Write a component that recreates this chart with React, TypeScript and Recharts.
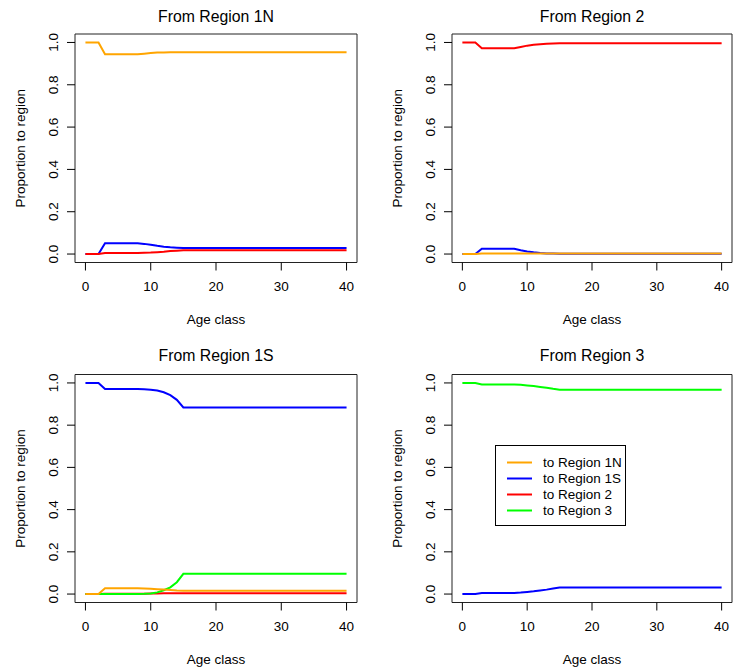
import { LineChart, Line, XAxis, YAxis, ReferenceArea, Legend } from 'recharts'

const AGES = [
  0, 1, 2, 3, 4, 5, 6, 7, 8, 9,
  10, 11, 12, 13, 14, 15, 16, 17, 18, 19,
  20, 21, 22, 23, 24, 25, 26, 27, 28, 29,
  30, 31, 32, 33, 34, 35, 36, 37, 38, 39,
  40,
]

const SERIES_KEYS = ['to1N', 'to1S', 'to2', 'to3']
const SERIES_LABELS = ['to Region 1N', 'to Region 1S', 'to Region 2', 'to Region 3']
const SERIES_COLORS = ['#FFA500', '#0000FF', '#FF0000', '#00FF00']
const X_TICKS = [0, 10, 20, 30, 40]
const Y_TICKS = [0, 0.2, 0.4, 0.6, 0.8, 1.0]

// From Region 1N
const FROM_1N_TO_1N = [
  1, 1, 1, 0.944, 0.944, 0.944, 0.944, 0.944, 0.944, 0.947,
  0.95, 0.952, 0.953, 0.954, 0.954, 0.954, 0.954, 0.954, 0.954, 0.954,
  0.954, 0.954, 0.954, 0.954, 0.954, 0.954, 0.954, 0.954, 0.954, 0.954,
  0.954, 0.954, 0.954, 0.954, 0.954, 0.954, 0.954, 0.954, 0.954, 0.954,
  0.954,
]
const FROM_1N_TO_1S = [
  0, 0, 0, 0.051, 0.051, 0.051, 0.051, 0.051, 0.051, 0.048,
  0.044, 0.039, 0.035, 0.032, 0.03, 0.028, 0.028, 0.028, 0.028, 0.028,
  0.028, 0.028, 0.028, 0.028, 0.028, 0.028, 0.028, 0.028, 0.028, 0.028,
  0.028, 0.028, 0.028, 0.028, 0.028, 0.028, 0.028, 0.028, 0.028, 0.028,
  0.028,
]
const FROM_1N_TO_2 = [
  0, 0, 0, 0.005, 0.005, 0.005, 0.005, 0.005, 0.005, 0.006,
  0.007, 0.009, 0.011, 0.014, 0.016, 0.018, 0.018, 0.018, 0.018, 0.018,
  0.018, 0.018, 0.018, 0.018, 0.018, 0.018, 0.018, 0.018, 0.018, 0.018,
  0.018, 0.018, 0.018, 0.018, 0.018, 0.018, 0.018, 0.018, 0.018, 0.018,
  0.018,
]

// From Region 2
const FROM_2_TO_1N = [
  0, 0, 0, 0.003, 0.003, 0.003, 0.003, 0.003, 0.003, 0.003,
  0.003, 0.003, 0.003, 0.003, 0.003, 0.003, 0.003, 0.003, 0.003, 0.003,
  0.003, 0.003, 0.003, 0.003, 0.003, 0.003, 0.003, 0.003, 0.003, 0.003,
  0.003, 0.003, 0.003, 0.003, 0.003, 0.003, 0.003, 0.003, 0.003, 0.003,
  0.003,
]
const FROM_2_TO_1S = [
  0, 0, 0, 0.025, 0.025, 0.025, 0.025, 0.025, 0.025, 0.018,
  0.012, 0.008, 0.005, 0.003, 0.002, 0.001, 0.001, 0.001, 0.001, 0.001,
  0.001, 0.001, 0.001, 0.001, 0.001, 0.001, 0.001, 0.001, 0.001, 0.001,
  0.001, 0.001, 0.001, 0.001, 0.001, 0.001, 0.001, 0.001, 0.001, 0.001,
  0.001,
]
const FROM_2_TO_2 = [
  1, 1, 1, 0.973, 0.973, 0.973, 0.973, 0.973, 0.973, 0.979,
  0.985, 0.989, 0.992, 0.994, 0.995, 0.996, 0.996, 0.996, 0.996, 0.996,
  0.996, 0.996, 0.996, 0.996, 0.996, 0.996, 0.996, 0.996, 0.996, 0.996,
  0.996, 0.996, 0.996, 0.996, 0.996, 0.996, 0.996, 0.996, 0.996, 0.996,
  0.996,
]

// From Region 1S
const FROM_1S_TO_1N = [
  0, 0, 0, 0.027, 0.027, 0.027, 0.027, 0.027, 0.027, 0.026,
  0.025, 0.023, 0.021, 0.019, 0.017, 0.016, 0.016, 0.016, 0.016, 0.016,
  0.016, 0.016, 0.016, 0.016, 0.016, 0.016, 0.016, 0.016, 0.016, 0.016,
  0.016, 0.016, 0.016, 0.016, 0.016, 0.016, 0.016, 0.016, 0.016, 0.016,
  0.016,
]
const FROM_1S_TO_1S = [
  1, 1, 1, 0.971, 0.971, 0.971, 0.971, 0.971, 0.971, 0.97,
  0.968, 0.964, 0.956, 0.942, 0.92, 0.884, 0.884, 0.884, 0.884, 0.884,
  0.884, 0.884, 0.884, 0.884, 0.884, 0.884, 0.884, 0.884, 0.884, 0.884,
  0.884, 0.884, 0.884, 0.884, 0.884, 0.884, 0.884, 0.884, 0.884, 0.884,
  0.884,
]
const FROM_1S_TO_2 = [
  0, 0, 0, 0.002, 0.002, 0.002, 0.002, 0.002, 0.002, 0.002,
  0.003, 0.003, 0.004, 0.004, 0.004, 0.004, 0.004, 0.004, 0.004, 0.004,
  0.004, 0.004, 0.004, 0.004, 0.004, 0.004, 0.004, 0.004, 0.004, 0.004,
  0.004, 0.004, 0.004, 0.004, 0.004, 0.004, 0.004, 0.004, 0.004, 0.004,
  0.004,
]
const FROM_1S_TO_3 = [
  0, 0, 0, 0, 0, 0, 0, 0, 0, 0.001,
  0.003, 0.008, 0.018, 0.032, 0.056, 0.096, 0.096, 0.096, 0.096, 0.096,
  0.096, 0.096, 0.096, 0.096, 0.096, 0.096, 0.096, 0.096, 0.096, 0.096,
  0.096, 0.096, 0.096, 0.096, 0.096, 0.096, 0.096, 0.096, 0.096, 0.096,
  0.096,
]

// From Region 3
const FROM_3_TO_1S = [
  0, 0, 0, 0.005, 0.005, 0.005, 0.005, 0.005, 0.005, 0.007,
  0.01, 0.013, 0.017, 0.021, 0.026, 0.031, 0.031, 0.031, 0.031, 0.031,
  0.031, 0.031, 0.031, 0.031, 0.031, 0.031, 0.031, 0.031, 0.031, 0.031,
  0.031, 0.031, 0.031, 0.031, 0.031, 0.031, 0.031, 0.031, 0.031, 0.031,
  0.031,
]
const FROM_3_TO_3 = [
  1, 1, 1, 0.993, 0.993, 0.993, 0.993, 0.993, 0.993, 0.991,
  0.988, 0.985, 0.981, 0.977, 0.972, 0.968, 0.968, 0.968, 0.968, 0.968,
  0.968, 0.968, 0.968, 0.968, 0.968, 0.968, 0.968, 0.968, 0.968, 0.968,
  0.968, 0.968, 0.968, 0.968, 0.968, 0.968, 0.968, 0.968, 0.968, 0.968,
  0.968,
]

const buildRows = (series: Record<string, number[]>) =>
  AGES.map((age, i) => {
    const row: Record<string, number> = { age }
    Object.keys(series).forEach((k) => {
      row[k] = series[k][i]
    })
    return row
  })

const FONT = '"Liberation Sans", Arial, Helvetica, sans-serif'

// draw order = order of the list (last one on top)
const panels = [
  {
    title: 'From Region 1N',
    rows: buildRows({ to1N: FROM_1N_TO_1N, to1S: FROM_1N_TO_1S, to2: FROM_1N_TO_2 }),
    order: ['to1S', 'to2', 'to1N'],
    left: 0, top: 0, width: 366, height: 336,
    margin: { top: 34, right: 9, bottom: 0, left: 0 },
    xAxisHeight: 73.5, titleY: 21.5, labelOffset: 12, legend: false,
  },
  {
    title: 'From Region 2',
    rows: buildRows({ to1N: FROM_2_TO_1N, to1S: FROM_2_TO_1S, to2: FROM_2_TO_2 }),
    order: ['to1S', 'to1N', 'to2'],
    left: 377, top: 0, width: 356, height: 336,
    margin: { top: 34, right: 1, bottom: 0, left: 0 },
    xAxisHeight: 73.5, titleY: 21.5, labelOffset: 12, legend: false,
  },
  {
    title: 'From Region 1S',
    rows: buildRows({ to1N: FROM_1S_TO_1N, to1S: FROM_1S_TO_1S, to2: FROM_1S_TO_2, to3: FROM_1S_TO_3 }),
    order: ['to2', 'to3', 'to1N', 'to1S'],
    left: 0, top: 340, width: 366, height: 332,
    margin: { top: 34.5, right: 9, bottom: 0, left: 0 },
    xAxisHeight: 69.5, titleY: 20.5, labelOffset: 8, legend: false,
  },
  {
    title: 'From Region 3',
    rows: buildRows({ to1S: FROM_3_TO_1S, to3: FROM_3_TO_3 }),
    order: ['to1S', 'to3'],
    left: 377, top: 340, width: 356, height: 332,
    margin: { top: 34.5, right: 1, bottom: 0, left: 0 },
    xAxisHeight: 69.5, titleY: 20.5, labelOffset: 8, legend: true,
  },
]

const YTick = ({ x, y, payload }: any) => {
  const cx = x - 14
  return (
    <text
      x={cx}
      y={y}
      dy="0.36em"
      textAnchor="middle"
      transform={`rotate(-90 ${cx} ${y})`}
      fontSize={13.5}
      fontFamily={FONT}
      fill="#000"
    >
      {Number(payload.value).toFixed(1)}
    </text>
  )
}

const LegendBox = () => (
  <div style={{ width: 131, height: 81, border: '1px solid #000', background: '#fff', boxSizing: 'border-box' }}>
    <svg width={129} height={79} style={{ display: 'block' }}>
      {SERIES_LABELS.map((name, i) => (
        <g key={name}>
          <line x1={11} x2={36} y1={16.5 + 16 * i} y2={16.5 + 16 * i} stroke={SERIES_COLORS[i]} strokeWidth={2} />
          <text x={47} y={16.5 + 16 * i} dy="0.36em" fontSize={13.5} fontFamily={FONT} fill="#000">
            {name}
          </text>
        </g>
      ))}
    </svg>
  </div>
)

const Panel = ({ p }: { p: (typeof panels)[number] }) => {
  const plotWidth = p.width - p.margin.left - p.margin.right - 75
  return (
    <div style={{ position: 'absolute', left: p.left, top: p.top }}>
      <LineChart width={p.width} height={p.height} data={p.rows} margin={p.margin}>
        <text
          x={75 + plotWidth / 2}
          y={p.titleY}
          textAnchor="middle"
          fontSize={15.8}
          fontFamily={FONT}
          fill="#000"
        >
          {p.title}
        </text>
        <XAxis
          dataKey="age"
          type="number"
          domain={[-1.6, 41.6]}
          ticks={X_TICKS}
          allowDataOverflow
          axisLine={false}
          tickLine={{ stroke: '#000' }}
          tickSize={8}
          tickMargin={11}
          height={p.xAxisHeight}
          tick={{ fontSize: 13.5, fill: '#000', fontFamily: FONT }}
          label={{
            value: 'Age class',
            position: 'insideBottom',
            offset: p.labelOffset,
            style: { fontSize: 13.5, fill: '#000', fontFamily: FONT },
          }}
        />
        <YAxis
          type="number"
          domain={[-0.04, 1.04]}
          ticks={Y_TICKS}
          allowDataOverflow
          axisLine={false}
          tickLine={{ stroke: '#000' }}
          tickSize={8}
          tickMargin={0}
          width={75}
          tick={<YTick />}
          label={{
            value: 'Proportion to region',
            angle: -90,
            position: 'insideLeft',
            offset: 20,
            style: { fontSize: 13.5, fill: '#000', fontFamily: FONT, textAnchor: 'middle' },
          }}
        />
        <ReferenceArea x1={-1.6} x2={41.6} y1={-0.04} y2={1.04} fill="none" stroke="#222" strokeWidth={1} />
        {p.order.map((key) => {
          const idx = SERIES_KEYS.indexOf(key)
          return (
            <Line
              key={key}
              dataKey={key}
              type="linear"
              stroke={SERIES_COLORS[idx]}
              strokeWidth={2}
              dot={false}
              activeDot={false}
              isAnimationActive={false}
            />
          )
        })}
        {p.legend && (
          <Legend
            layout="vertical"
            align="center"
            verticalAlign="middle"
            content={() => <LegendBox />}
            wrapperStyle={{ left: 118, top: 105, width: 131, height: 81 }}
          />
        )}
      </LineChart>
    </div>
  )
}

const App = () => {
  return (
    <div
      style={{
        position: 'absolute',
        left: 0,
        top: 0,
        width: 733,
        height: 672,
        overflow: 'hidden',
        background: '#fff',
        fontFamily: FONT,
      }}
    >
      {panels.map((p) => (
        <Panel key={p.title} p={p} />
      ))}
    </div>
  )
}

export default App
